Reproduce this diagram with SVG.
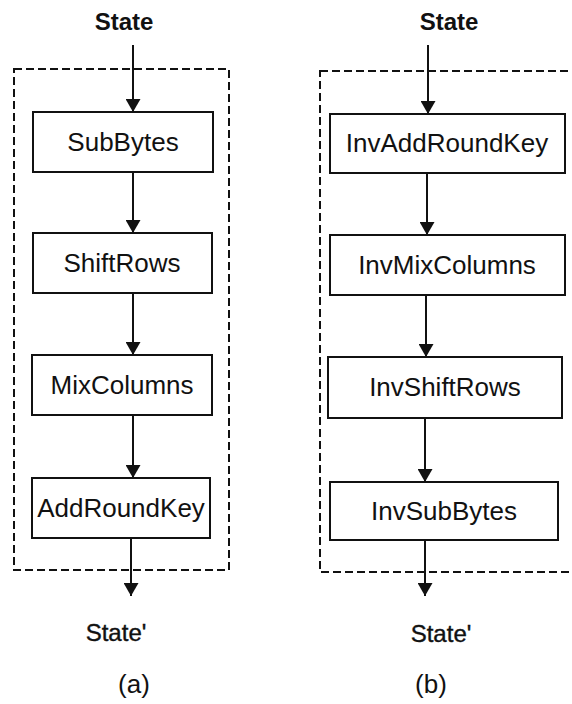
<svg xmlns="http://www.w3.org/2000/svg" width="572" height="704" viewBox="0 0 572 704">
<defs>
<marker id="ah" markerUnits="userSpaceOnUse" markerWidth="14" markerHeight="15" refX="13" refY="7.5" orient="auto">
<path d="M0,0 L13,7.5 L0,15 Z" fill="#111"/>
</marker>
</defs>
<style>
.box{fill:#fff;stroke:#111;stroke-width:2}
.dash{fill:none;stroke:#111;stroke-width:2;stroke-dasharray:8 4}
.lbl{font-family:"Liberation Sans",Arial,sans-serif;font-size:26px;fill:#111;text-anchor:middle}
.st{font-family:"Liberation Sans",Arial,sans-serif;font-size:24px;font-weight:bold;fill:#111;text-anchor:middle}
.st2{font-family:"Liberation Sans",Arial,sans-serif;font-size:24px;fill:#111;text-anchor:middle;stroke:#111;stroke-width:0.4}
.cap{font-family:"Liberation Sans",Arial,sans-serif;font-size:26px;fill:#111;text-anchor:middle}
.arr{stroke:#111;stroke-width:2;fill:none;marker-end:url(#ah)}
</style>
<rect width="572" height="704" fill="#fff"/>
<g id="frames">
<rect class="dash" x="14" y="69" width="215" height="501"/>
<rect class="dash" x="320" y="71" width="270" height="501"/>
</g>
<g id="connectors">
<line class="arr" x1="133" y1="45" x2="133" y2="112"/>
<line class="arr" x1="133" y1="172" x2="133" y2="233"/>
<line class="arr" x1="133" y1="293" x2="133" y2="355"/>
<line class="arr" x1="133" y1="415" x2="133" y2="478"/>
<line class="arr" x1="131" y1="538" x2="131" y2="596"/>
<line class="arr" x1="428" y1="45" x2="428" y2="114"/>
<line class="arr" x1="427" y1="173" x2="427" y2="235"/>
<line class="arr" x1="426" y1="295" x2="426" y2="357"/>
<line class="arr" x1="425" y1="418" x2="425" y2="482"/>
<line class="arr" x1="425" y1="540" x2="425" y2="596"/>
</g>
<g id="labels">
<text class="st" x="124" y="30">State</text>
<text class="st" x="449" y="30">State</text>
<text class="st2" x="116" y="641">State'</text>
<text class="st2" x="441" y="642">State'</text>
<text class="cap" x="134" y="693">(a)</text>
<text class="cap" x="431" y="693">(b)</text>
</g>
<g id="SubBytes">
<rect class="box" x="33" y="112" width="180" height="60"/>
<text class="lbl" x="123" y="151">SubBytes</text>
</g>
<g id="ShiftRows">
<rect class="box" x="33" y="233" width="179" height="60"/>
<text class="lbl" x="122" y="272">ShiftRows</text>
</g>
<g id="MixColumns">
<rect class="box" x="32" y="355" width="180" height="60"/>
<text class="lbl" x="122" y="394">MixColumns</text>
</g>
<g id="AddRoundKey">
<rect class="box" x="32" y="478" width="178" height="60"/>
<text class="lbl" x="121" y="517">AddRoundKey</text>
</g>
<g id="InvAddRoundKey">
<rect class="box" x="330" y="114" width="235" height="59"/>
<text class="lbl" x="447" y="152">InvAddRoundKey</text>
</g>
<g id="InvMixColumns">
<rect class="box" x="330" y="235" width="235" height="60"/>
<text class="lbl" x="447" y="274">InvMixColumns</text>
</g>
<g id="InvShiftRows">
<rect class="box" x="328" y="357" width="234" height="61"/>
<text class="lbl" x="445" y="396">InvShiftRows</text>
</g>
<g id="InvSubBytes">
<rect class="box" x="330" y="482" width="228" height="58"/>
<text class="lbl" x="444" y="520">InvSubBytes</text>
</g>
</svg>
